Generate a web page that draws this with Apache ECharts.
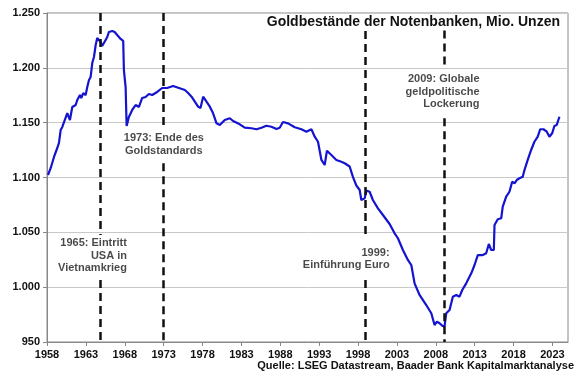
<!DOCTYPE html>
<html><head><meta charset="utf-8">
<script src="https://cdn.jsdelivr.net/npm/echarts@6/dist/echarts.min.js"></script>
<style>html,body{margin:0;padding:0;background:#fff}#c{width:580px;height:375px}</style>
</head><body><div id="c"></div>
<script>
// Goldbestände der Notenbanken, Mio. Unzen
const years = [1958.13,1958.48,1958.90,1959.32,1959.54,1959.76,1959.97,1960.61,1960.95,1961.25,1961.69,1961.89,1962.24,1962.41,1962.66,1962.97,1963.18,1963.40,1963.61,1963.82,1964.04,1964.26,1964.46,1964.68,1964.90,1965.10,1965.32,1965.54,1965.75,1965.96,1966.39,1966.70,1967.03,1967.47,1967.80,1967.89,1968.11,1968.24,1968.53,1968.96,1969.39,1969.82,1970.24,1970.68,1971.10,1971.53,1972.17,1972.81,1973.45,1974.22,1974.87,1975.73,1976.15,1976.59,1977.01,1977.43,1977.74,1978.08,1978.51,1978.94,1979.36,1979.80,1980.22,1980.86,1981.51,1981.93,1982.79,1983.43,1984.29,1984.94,1985.58,1986.22,1986.86,1987.51,1987.93,1988.35,1989.00,1989.86,1990.72,1991.36,1992.00,1992.21,1992.43,1992.85,1993.29,1993.71,1994.00,1994.57,1995.21,1995.85,1996.28,1996.92,1997.34,1997.78,1998.21,1998.42,1998.85,1999.07,1999.49,1999.91,2000.56,2001.20,2002.06,2002.70,2003.13,2003.77,2004.41,2004.85,2005.27,2005.91,2006.77,2007.42,2007.84,2008.14,2008.48,2008.83,2009.12,2009.34,2009.77,2010.19,2010.63,2011.05,2011.40,2011.91,2012.56,2012.98,2013.40,2014.04,2014.48,2014.82,2015.12,2015.46,2015.55,2015.97,2016.41,2016.61,2017.05,2017.47,2017.82,2018.12,2018.41,2018.76,2019.18,2019.40,2019.82,2020.26,2020.68,2021.11,2021.42,2021.84,2022.27,2022.61,2022.96,2023.25,2023.55,2023.90];
const goldHoldings = [1102.3,1108.7,1118.7,1126.9,1131.5,1143.3,1146.1,1158.8,1152.4,1164.3,1166.1,1170.7,1175.2,1172.5,1177.0,1175.2,1182.5,1188.9,1191.6,1204.4,1209.9,1220.8,1227.2,1225.4,1223.6,1219.9,1222.6,1222.6,1228.1,1232.7,1233.6,1232.7,1229.9,1226.3,1224.5,1198.0,1182.5,1147.0,1155.2,1161.6,1166.1,1164.3,1172.5,1173.4,1176.1,1175.2,1178.0,1181.6,1181.6,1183.4,1181.9,1179.8,1177.0,1173.7,1169.1,1164.6,1163.4,1173.7,1169.1,1164.6,1158.5,1149.4,1147.9,1152.4,1154.0,1151.5,1148.5,1145.4,1144.9,1144.0,1145.4,1147.2,1146.3,1144.2,1145.4,1150.6,1149.4,1145.8,1144.0,1141.8,1144.0,1144.9,1137.2,1132.6,1116.0,1111.4,1124.4,1120.5,1116.0,1114.4,1113.0,1110.0,1100.5,1092.7,1088.6,1079.5,1081.0,1088.0,1087.0,1079.5,1071.9,1065.8,1057.6,1049.1,1044.6,1033.9,1024.8,1020.2,1003.5,992.9,983.7,976.2,965.5,968.5,967.1,964.9,964.0,976.2,979.2,991.3,992.9,991.3,997.4,1003.5,1012.6,1020.2,1029.3,1029.3,1030.9,1039.4,1033.9,1033.9,1056.7,1061.9,1062.8,1073.4,1082.5,1087.0,1096.2,1094.7,1097.7,1099.3,1100.7,1106.8,1116.0,1125.1,1132.6,1137.2,1144.0,1144.0,1141.8,1137.2,1140.3,1147.0,1147.9,1155.4];
const xTickLabels = [1958,1963,1968,1973,1978,1983,1988,1993,1998,2003,2008,2013,2018,2023];
const eventYears = [1964.8, 1973.0, 1998.9, 2009.1];
const eventLineTop = [1250, 1250, 1233.5, 1234];
const eventGapTop = [1047.5, 1145, 1045, 1202];
const eventGapBottom = [1006.5, 1113, 1006.5, 1154];
const eventTexts = ['1965: Eintritt\nUSA in\nVietnamkrieg', '1973: Ende des\nGoldstandards', '1999:\nEinführung Euro', '2009: Globale\ngeldpolitische\nLockerung'];
const eventTextAnchorX = [1968.28, 1973.03, 2002.06, 2013.62];
const eventTextAnchorY = [1028.9, 1130.1, 1025.7, 1178.4];
const eventTextAlign = ['right', 'center', 'right', 'right'];
const titleText = 'Goldbestände der Notenbanken, Mio. Unzen';
const sourceText = 'Quelle: LSEG Datastream, Baader Bank Kapitalmarktanalyse';

const FONT = '"Liberation Sans", Arial, sans-serif';
const fmtY = v => { const s = String(v); return s.length > 3 ? s.slice(0, s.length - 3) + '.' + s.slice(-3) : s; };

const segs = [];
eventYears.forEach((x, i) => {
  segs.push([{coord: [x, eventLineTop[i]]}, {coord: [x, eventGapTop[i]]}]);
  segs.push([{coord: [x, eventGapBottom[i]]}, {coord: [x, 950]}]);
});

const chart = echarts.init(document.getElementById('c'), null, {renderer: 'canvas'});
chart.setOption({
  animation: false,
  backgroundColor: '#fff',
  title: [
    {text: titleText, right: 18, top: 14, padding: [1, 2, 1, 2],
     textStyle: {fontFamily: FONT, fontSize: 14, fontWeight: 'bold', color: '#111'}},
    {text: sourceText, right: 6, top: 360, padding: 0,
     textStyle: {fontFamily: FONT, fontSize: 11, fontWeight: 'bold', color: '#111'}}
  ],
  grid: {left: 47, top: 13, right: 12, bottom: 33, show: true, borderColor: '#888', borderWidth: 1, backgroundColor: 'transparent'},
  xAxis: {
    type: 'value', min: 1958, max: 2025,
    axisLine: {show: true, lineStyle: {color: '#888', width: 1}},
    axisTick: {show: true, length: 4, lineStyle: {color: '#888'}, customValues: xTickLabels},
    axisLabel: {customValues: xTickLabels, margin: 7, fontFamily: FONT, fontSize: 11, fontWeight: 'bold', color: '#111', formatter: v => String(v)},
    splitLine: {show: false}
  },
  yAxis: {
    type: 'value', min: 950, max: 1250, interval: 50,
    axisLine: {show: true, lineStyle: {color: '#888', width: 1}},
    axisTick: {show: true, length: 4, lineStyle: {color: '#888'}},
    axisLabel: {margin: 7, fontFamily: FONT, fontSize: 11, fontWeight: 'bold', color: '#111', formatter: fmtY},
    splitLine: {show: true, lineStyle: {color: '#c8c8c8', width: 1}}
  },
  series: [
    {
      type: 'line', z: 3,
      data: years.map((y, i) => [y, goldHoldings[i]]),
      showSymbol: false, symbol: 'none',
      lineStyle: {color: '#1414d0', width: 2.2},
      markLine: {
        silent: true, symbol: ['none', 'none'], animation: false,
        label: {show: false},
        lineStyle: {color: '#111', width: 2.5, type: [8, 5]},
        data: segs
      }
    },
    {
      type: 'scatter', z: 10, symbolSize: 0, silent: true,
      data: eventTexts.map((t, i) => ({
        value: [eventTextAnchorX[i], eventTextAnchorY[i]],
        label: {
          show: true, formatter: t, position: 'inside',
          align: eventTextAlign[i], verticalAlign: 'middle',
          fontFamily: FONT, fontSize: 11, fontWeight: 'bold', color: '#1a1a1a',
          lineHeight: 12.5
        }
      }))
    }
  ]
});
</script></body></html>
